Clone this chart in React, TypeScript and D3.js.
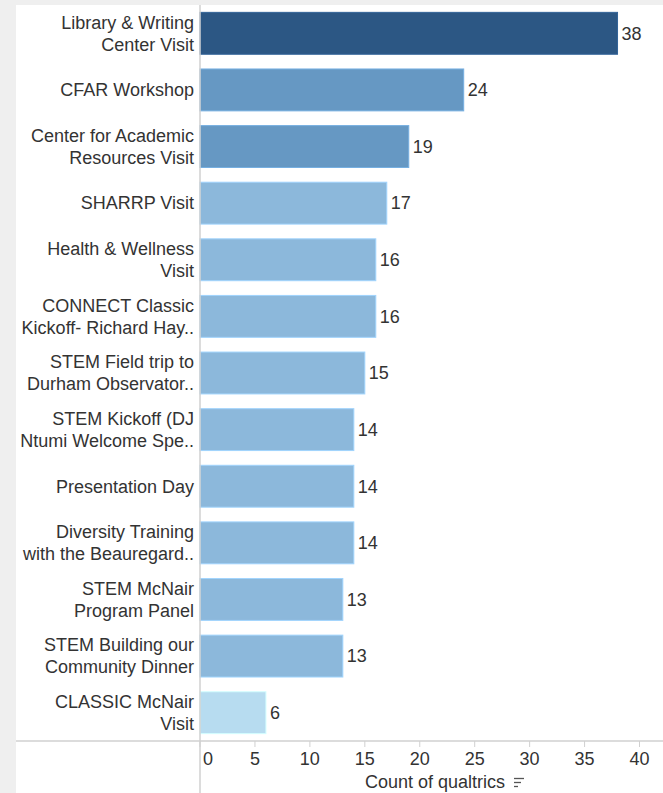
import React from "react";
import * as d3 from "d3";

const categories: string[][] = [
  ["Library & Writing", "Center Visit"],
  ["CFAR Workshop"],
  ["Center for Academic", "Resources Visit"],
  ["SHARRP Visit"],
  ["Health & Wellness", "Visit"],
  ["CONNECT Classic", "Kickoff- Richard Hay.."],
  ["STEM Field trip to", "Durham Observator.."],
  ["STEM Kickoff (DJ", "Ntumi Welcome Spe.."],
  ["Presentation Day"],
  ["Diversity Training", "with the Beauregard.."],
  ["STEM McNair", "Program Panel"],
  ["STEM Building our", "Community Dinner"],
  ["CLASSIC McNair", "Visit"],
];
const counts: number[] = [38, 24, 19, 17, 16, 16, 15, 14, 14, 14, 13, 13, 6];
const xTicks: number[] = [0, 5, 10, 15, 20, 25, 30, 35, 40];
const axisTitle = "Count of qualtrics";

const W = 663;
const H = 793;
const FONT = "'Liberation Sans', Arial, sans-serif";

export default function App() {
  const keys = categories.map((c) => c.join(" "));
  const x = d3.scaleLinear().domain([0, 40]).range([200, 639.5]);
  const y = d3
    .scaleBand<string>()
    .domain(keys)
    .range([5, 741])
    .paddingInner(0.26)
    .paddingOuter(0.13);
  const color = d3
    .scaleThreshold<number, string>()
    .domain([10, 18, 30])
    .range(["#b7dcf0", "#8cb8db", "#6698c3", "#2c5784"]);
  const axisY = 741;
  const lineH = 22;
  const fs = 18;

  return (
    <div style={{ position: "absolute", left: 0, top: 0 }}>
      <svg width={W} height={H} style={{ display: "block" }} fontFamily={FONT}>
        <rect x={0} y={0} width={W} height={H} fill="#efefef" />
        <rect x={16} y={5} width={W - 16} height={H - 5} fill="#ffffff" />
        {keys.map((k, i) => {
          const yc = (y(k) as number) + y.bandwidth() / 2;
          const lines = categories[i];
          const v = counts[i];
          return (
            <g key={k}>
              <rect
                x={x(0)}
                y={y(k)}
                width={x(v) - x(0)}
                height={y.bandwidth()}
                fill={color(v)}
                stroke={d3.color(color(v))!.brighter(0.4).formatHex()}
                strokeWidth={1}
              />
              <text x={x(v) + 4} y={yc} dy="0.35em" fontSize={fs} fill="#333">
                {v}
              </text>
              {lines.map((ln, j) => (
                <text
                  key={j}
                  x={194}
                  y={yc + (j - (lines.length - 1) / 2) * lineH}
                  dy="0.35em"
                  textAnchor="end"
                  fontSize={fs}
                  fill="#333"
                >
                  {ln}
                </text>
              ))}
            </g>
          );
        })}
        <line x1={16} x2={W} y1={axisY} y2={axisY} stroke="#d0d0d0" strokeWidth={1.5} />
        <line x1={200} x2={200} y1={5} y2={H} stroke="#d0d0d0" strokeWidth={1.5} />
        {xTicks.map((t, i) => (
          <g key={t}>
            <line x1={x(t)} x2={x(t)} y1={axisY} y2={axisY + 6} stroke="#d0d0d0" strokeWidth={1} />
            <text
              x={i === 0 ? x(t) + 3 : x(t)}
              y={axisY + 18}
              dy="0.35em"
              textAnchor={i === 0 ? "start" : "middle"}
              fontSize={fs}
              fill="#333"
            >
              {t}
            </text>
          </g>
        ))}
        <text x={435} y={782} dy="0.35em" textAnchor="middle" fontSize={fs} fill="#333">
          {axisTitle}
        </text>
        <g stroke="#555" strokeWidth={1.3}>
          <line x1={514} x2={524} y1={778.5} y2={778.5} />
          <line x1={514} x2={521} y1={782.5} y2={782.5} />
          <line x1={514} x2={518} y1={786.5} y2={786.5} />
        </g>
      </svg>
    </div>
  );
}
